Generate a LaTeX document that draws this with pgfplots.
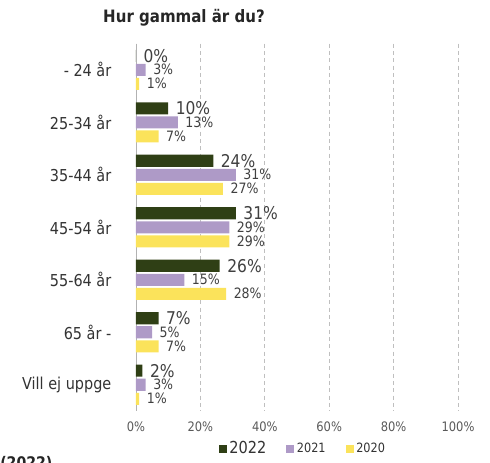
\documentclass[border=0pt]{standalone}
\usepackage{fontspec}
\setmainfont[FakeStretch=0.88]{DejaVu Sans}
\usepackage{pgfplots}
\pgfplotsset{compat=1.18}
\definecolor{c22}{HTML}{2F3F15}
\definecolor{c21}{HTML}{AE9AC7}
\definecolor{c20}{HTML}{FBE35B}
\definecolor{lbl}{HTML}{404040}
\begin{document}
\begin{tikzpicture}[x=1pt,y=1pt]
\useasboundingbox (0,0) rectangle (367.5,347.25);
\node[font=\bfseries\fontsize{12.8}{15}\selectfont, text=black!85] at (138,333.75) {Hur gammal är du?};
\node[font=\bfseries\fontsize{12}{14}\selectfont, text=black!85, anchor=base west, inner sep=0pt] at (0,-4) {(2022)};
\begin{axis}[
  at={(102pt,39pt)}, anchor=south west,
  width=241.5pt, height=275.6pt, scale only axis,
  xbar, xmin=0, xmax=100, ymin=-0.5, ymax=6.5, y dir=reverse,
  bar width=0.229,
  /pgf/number format/assume math mode=true,
  axis lines*=left,
  x axis line style={draw=none},
  y axis line style={draw=black!30,-},
  xtick={0,20,...,100},
  xticklabel={\pgfmathprintnumber{\tick}\%},
  major tick length=0pt,
  xmajorgrids,
  grid style={draw=black!25, dash pattern=on 3pt off 2.5pt, line width=0.5pt},
  ytick={0,...,6},
  yticklabels={- 24 år, 25-34 år, 35-44 år, 45-54 år, 55-64 år, 65 år -, Vill ej uppge},
  yticklabel style={font=\fontsize{12.3}{14}\selectfont, text=black!80, xshift=-15pt},
  xticklabel style={font=\fontsize{9.8}{12}\selectfont, text=black!65, yshift=-4.5pt},
  nodes near coords={\pgfmathprintnumber{\pgfplotspointmeta}\%},
  every node near coord/.append style={text=lbl, inner sep=0pt, xshift=5.5pt, anchor=west},
  legend style={at={(axis description cs:0.519,-0.103)}, anchor=center, draw=none, fill=none,
     legend columns=3, text=black!80,
     /tikz/every even column/.append style={column sep=13pt}},
  legend image code/.code={\fill[#1] (0pt,-3pt) rectangle (6pt,3pt);},
]
\addplot[fill=c22, draw=none, bar shift=-0.267, every node near coord/.append style={font=\fontsize{13.2}{15}\selectfont}]
  coordinates {(0,0) (10,1) (24,2) (31,3) (26,4) (7,5) (2,6)};
\addlegendentry{\fontsize{12.4}{14}\selectfont 2022}
\addplot[fill=c21, draw=none, bar shift=0, every node near coord/.append style={font=\fontsize{10.7}{12}\selectfont}]
  coordinates {(3,0) (13,1) (31,2) (29,3) (15,4) (5,5) (3,6)};
\addlegendentry{\fontsize{9.6}{12}\selectfont 2021}
\addplot[fill=c20, draw=none, bar shift=0.267, every node near coord/.append style={font=\fontsize{10.7}{12}\selectfont}]
  coordinates {(1,0) (7,1) (27,2) (29,3) (28,4) (7,5) (1,6)};
\addlegendentry{\fontsize{9.6}{12}\selectfont 2020}
\end{axis}
\end{tikzpicture}
\end{document}
